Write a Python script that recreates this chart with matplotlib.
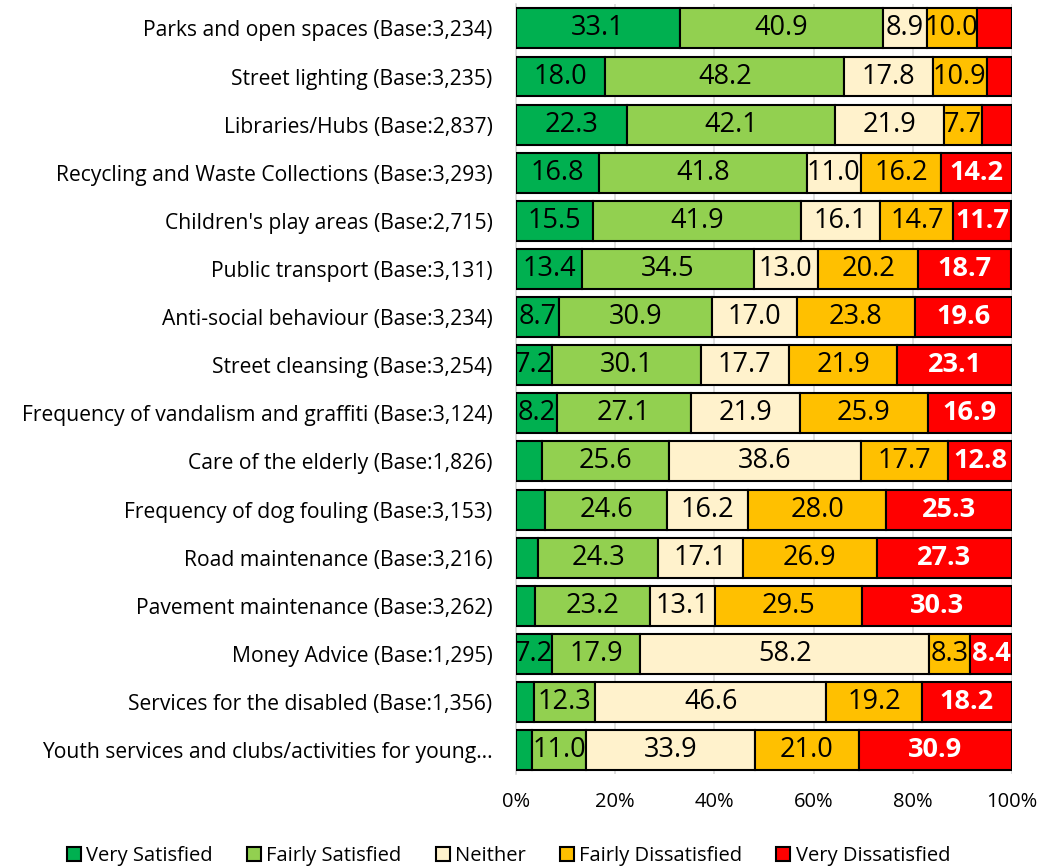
import matplotlib
matplotlib.use("Agg")
import matplotlib.pyplot as plt
import numpy as np

plt.rcParams['font.family'] = ['Open Sans', 'DejaVu Sans']

categories = [
    "Parks and open spaces (Base:3,234)",
    "Street lighting (Base:3,235)",
    "Libraries/Hubs (Base:2,837)",
    "Recycling and Waste Collections (Base:3,293)",
    "Children's play areas (Base:2,715)",
    "Public transport (Base:3,131)",
    "Anti-social behaviour (Base:3,234)",
    "Street cleansing (Base:3,254)",
    "Frequency of vandalism and graffiti (Base:3,124)",
    "Care of the elderly (Base:1,826)",
    "Frequency of dog fouling (Base:3,153)",
    "Road maintenance (Base:3,216)",
    "Pavement maintenance (Base:3,262)",
    "Money Advice (Base:1,295)",
    "Services for the disabled (Base:1,356)",
    "Youth services and clubs/activities for young\u2026",
]

very_satisfied = [33.1, 18.0, 22.3, 16.8, 15.5, 13.4, 8.7, 7.2, 8.2, 5.3, 5.9, 4.4, 3.9, 7.2, 3.7, 3.2]
fairly_satisfied = [40.9, 48.2, 42.1, 41.8, 41.9, 34.5, 30.9, 30.1, 27.1, 25.6, 24.6, 24.3, 23.2, 17.9, 12.3, 11.0]
neither = [8.9, 17.8, 21.9, 11.0, 16.1, 13.0, 17.0, 17.7, 21.9, 38.6, 16.2, 17.1, 13.1, 58.2, 46.6, 33.9]
fairly_dissatisfied = [10.0, 10.9, 7.7, 16.2, 14.7, 20.2, 23.8, 21.9, 25.9, 17.7, 28.0, 26.9, 29.5, 8.3, 19.2, 21.0]
very_dissatisfied = [7.1, 5.1, 6.0, 14.2, 11.7, 18.7, 19.6, 23.1, 16.9, 12.8, 25.3, 27.3, 30.3, 8.4, 18.2, 30.9]

series = [
    ("Very Satisfied", very_satisfied, "#00B050", "black", "normal"),
    ("Fairly Satisfied", fairly_satisfied, "#92D050", "black", "normal"),
    ("Neither", neither, "#FFF2CC", "black", "normal"),
    ("Fairly Dissatisfied", fairly_dissatisfied, "#FFC000", "black", "normal"),
    ("Very Dissatisfied", very_dissatisfied, "#FF0000", "white", "bold"),
]

fig = plt.figure(figsize=(10.64, 8.66), dpi=100)
ax = fig.add_axes([0.485, 0.106, 0.466, 0.889])

y = np.arange(len(categories))
left = np.zeros(len(categories))
for name, vals, color, tcolor, weight in series:
    vals = np.array(vals)
    bars = ax.barh(y, vals / 100.0, left=left, height=0.83, color=color,
                   edgecolor="black", linewidth=1.5, label=name, zorder=3)
    labels = ["%.1f" % v if v >= 7.15 else "" for v in vals]
    ax.bar_label(bars, labels=labels, label_type="center", fontsize=19.5,
                 color=tcolor, fontweight=weight, zorder=4)
    left += vals / 100.0

ax.set_ylim(len(categories) - 0.5, -0.5)
ax.set_xlim(0, 1)
ax.set_yticks(y)
ax.set_yticklabels(categories, fontsize=15.2)
ax.set_xticks([0, 0.2, 0.4, 0.6, 0.8, 1.0])
ax.set_xticklabels(["0%", "20%", "40%", "60%", "80%", "100%"], fontsize=14.5)
ax.tick_params(axis="both", length=0)
ax.tick_params(axis="x", pad=13)
ax.tick_params(axis="y", pad=17)
ax.grid(axis="x", color="#D9D9D9", linewidth=1.2, zorder=0)
for s in ["top", "right", "bottom"]:
    ax.spines[s].set_visible(False)
ax.spines["left"].set_color("#D9D9D9")
ax.spines["left"].set_linewidth(1.2)

fig.legend(loc="center", bbox_to_anchor=(0.478, 0.012), ncol=5, frameon=False,
           fontsize=14.5, handlelength=0.7, handleheight=0.7, handletextpad=0.25,
           columnspacing=1.7)

fig.savefig("out.png", dpi=100)
